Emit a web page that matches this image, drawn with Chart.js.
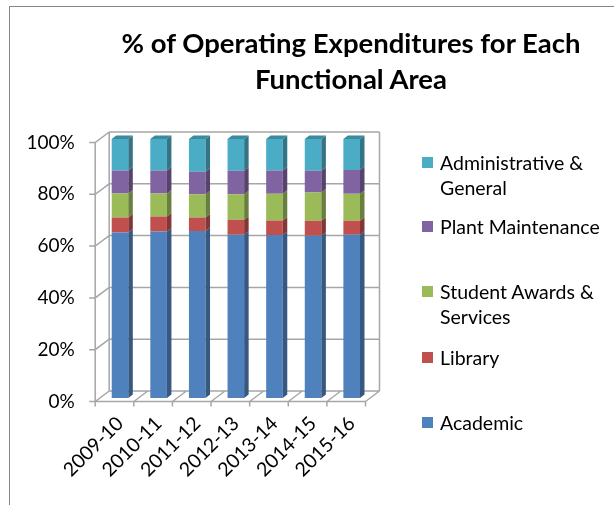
<!DOCTYPE html>
<html>
<head>
<meta charset="utf-8">
<script src="https://cdn.jsdelivr.net/npm/chart.js@4"></script>
<style>
  body { margin: 0; background: #fff; }
  #wrap { position: relative; width: 614px; height: 505px; overflow: hidden; background: #fff; }
  #frame { position: absolute; left: 9px; top: 6px; width: 700px; height: 600px;
           border-top: 1px solid #868686; border-left: 1px solid #868686; }
  #title { position: absolute; left: 351px; top: 25px; transform: translateX(-50%);
           font: 700 27.5px Lato, sans-serif; text-align: center; line-height: 36px;
           white-space: nowrap; color: #000; }
  #legend { position: absolute; left: 0; top: 0; width: 614px; height: 505px; }
  .item { position: absolute; left: 422px; font: 19.5px Lato, sans-serif; color: #000;
          line-height: 25px; white-space: pre; }
  .item span { position: absolute; left: 0; top: 7px; width: 11px; height: 11px; }
  .item div { margin-left: 18px; }
  canvas { position: absolute; left: 0; top: 0; }
</style>
</head>
<body>
<div id="wrap">
  <div id="frame"></div>
  <canvas id="myChart" width="614" height="505"></canvas>
  <div id="title">% of Operating Expenditures for Each<br>Functional Area</div>
  <div id="legend"></div>
</div>
<script>
// Share of operating expenditures by functional area (percent)
const years = ['2009-10', '2010-11', '2011-12', '2012-13', '2013-14', '2014-15', '2015-16'];
const academic = [63.9, 64.3, 64.5, 63.0, 62.9, 62.6, 63.0];
const library = [5.8, 5.8, 5.2, 5.8, 5.6, 5.8, 5.4];
const studentAwards = [9.3, 8.9, 9.0, 9.9, 10.4, 10.9, 10.5];
const plantMaint = [8.8, 8.8, 8.7, 9.0, 8.9, 8.4, 9.1];
const adminGeneral = [12.2, 12.2, 12.6, 12.3, 12.2, 12.3, 12.0];
const yTicks = [0, 20, 40, 60, 80, 100];

const seriesNames = ['Academic', 'Library', 'Student Awards & Services', 'Plant Maintenance', 'Administrative & General'];
const seriesColors = ['#4f81bd', '#c0504d', '#9bbb59', '#8064a2', '#4bacc6'];

// offsets of the front edge, back wall and bar depth, relative to the bar faces
const FRONT = { x: -5.5, y: 3.5 };
const BACK = { x: 8.5, y: -7 };
const DEPTH = { x: 4.5, y: -3.5 };

function shade(hex, f) {
    const n = parseInt(hex.slice(1), 16);
    const r = Math.round(((n >> 16) & 255) * f);
    const g = Math.round(((n >> 8) & 255) * f);
    const b = Math.round((n & 255) * f);
    return `rgb(${r},${g},${b})`;
}

const box3d = {
    id: 'box3d',
    beforeDatasetsDraw(chart) {
        const { ctx, chartArea: a, scales: { x, y } } = chart;
        const n = chart.data.labels.length;
        const step = (a.right - a.left) / n;
        ctx.save();
        ctx.strokeStyle = '#a6a6a6';
        ctx.lineWidth = 1.5;
        ctx.beginPath();
        // back wall gridlines + left wall diagonals + tick marks
        y.ticks.forEach((t) => {
            const py = y.getPixelForValue(t.value);
            ctx.moveTo(a.left + BACK.x, py + BACK.y);
            ctx.lineTo(a.right + BACK.x, py + BACK.y);
            ctx.moveTo(a.left + FRONT.x - 6, py + FRONT.y);
            ctx.lineTo(a.left + FRONT.x, py + FRONT.y);
            ctx.lineTo(a.left + BACK.x, py + BACK.y);
        });
        // wall edges
        ctx.moveTo(a.left + FRONT.x, a.top + FRONT.y);
        ctx.lineTo(a.left + FRONT.x, a.bottom + FRONT.y);
        ctx.moveTo(a.left + BACK.x, a.top + BACK.y);
        ctx.lineTo(a.left + BACK.x, a.bottom + BACK.y);
        ctx.moveTo(a.right + BACK.x, a.top + BACK.y);
        ctx.lineTo(a.right + BACK.x, a.bottom + BACK.y);
        // floor
        ctx.moveTo(a.left + FRONT.x, a.bottom + FRONT.y);
        ctx.lineTo(a.right + FRONT.x, a.bottom + FRONT.y);
        for (let k = 0; k <= n; k++) {
            const px = a.left + k * step;
            ctx.moveTo(px + FRONT.x, a.bottom + FRONT.y + 5);
            ctx.lineTo(px + FRONT.x, a.bottom + FRONT.y);
            ctx.lineTo(px + BACK.x, a.bottom + BACK.y);
        }
        ctx.stroke();
        ctx.restore();
    },
    afterDatasetsDraw(chart) {
        const { ctx } = chart;
        const last = chart.data.datasets.length - 1;
        ctx.save();
        chart.data.datasets.forEach((ds, i) => {
            const meta = chart.getDatasetMeta(i);
            meta.data.forEach((bar) => {
                const { x, y, base, width } = bar.getProps(['x', 'y', 'base', 'width'], true);
                const l = x - width / 2, r = x + width / 2;
                // side face
                ctx.fillStyle = shade(ds.backgroundColor, 0.68);
                ctx.beginPath();
                ctx.moveTo(r, y);
                ctx.lineTo(r + DEPTH.x, y + DEPTH.y);
                ctx.lineTo(r + DEPTH.x, base + DEPTH.y);
                ctx.lineTo(r, base);
                ctx.closePath();
                ctx.fill();
                if (i === last) {
                    // top face
                    ctx.fillStyle = shade(ds.backgroundColor, 0.8);
                    ctx.beginPath();
                    ctx.moveTo(l, y);
                    ctx.lineTo(l + DEPTH.x, y + DEPTH.y);
                    ctx.lineTo(r + DEPTH.x, y + DEPTH.y);
                    ctx.lineTo(r, y);
                    ctx.closePath();
                    ctx.fill();
                }
            });
        });
        ctx.restore();
    }
};

const seriesData = [academic, library, studentAwards, plantMaint, adminGeneral];

const ctx = document.getElementById('myChart').getContext('2d');
const myChart = new Chart(ctx, {
    type: 'bar',
    data: {
        labels: years,
        datasets: seriesNames.map((name, i) => ({
            label: name,
            data: seriesData[i],
            backgroundColor: seriesColors[i],
            borderWidth: 0,
            barPercentage: 0.43,
            categoryPercentage: 1,
        })),
    },
    options: {
        responsive: false,
        animation: false,
        devicePixelRatio: 1,
        layout: { padding: { top: 139, right: 243, left: 0, bottom: 0 } },
        plugins: { legend: { display: false }, title: { display: false }, tooltip: { enabled: false } },
        scales: {
            x: {
                stacked: true,
                grid: { display: false, drawTicks: false },
                border: { display: false },
                ticks: {
                    color: '#000',
                    font: { family: 'Lato', size: 19.5 },
                    minRotation: 45,
                    maxRotation: 45,
                    padding: 14,
                },
                afterFit: (scale) => { scale.height = 107; },
            },
            y: {
                stacked: true,
                min: 0,
                max: 100,
                grid: { display: false, drawTicks: false },
                border: { display: false },
                afterBuildTicks: (scale) => { scale.ticks = yTicks.map((v) => ({ value: v })); },
                ticks: {
                    color: '#000',
                    font: { family: 'Lato', size: 19 },
                    padding: 26,
                    labelOffset: 3.5,
                    callback: (v) => v + '%',
                },
                afterFit: (scale) => { scale.width = 100.7; },
            },
        },
    },
    plugins: [box3d],
});

// legend on the right, top entry first
const legendTops = [150, 214, 279, 345, 410];
const legend = document.getElementById('legend');
seriesNames.slice().reverse().forEach((name, k) => {
    const i = seriesNames.length - 1 - k;
    const item = document.createElement('div');
    item.className = 'item';
    item.style.top = legendTops[k] + 'px';
    item.innerHTML = `<span style="background:${seriesColors[i]}"></span><div></div>`;
    item.querySelector('div').textContent = name.replace('& ', '&\n');
    legend.appendChild(item);
});
</script>
</body>
</html>
